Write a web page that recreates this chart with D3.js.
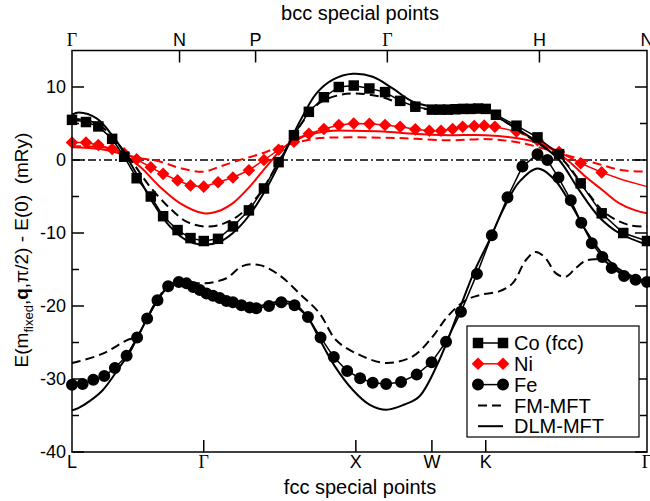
<!DOCTYPE html>
<html>
<head>
  <meta charset="utf-8">
  <title>Spin spiral energies: Co, Ni, Fe</title>
  <style>
    body { margin: 0; background: #fff; }
    svg { display: block; font-family: "Liberation Sans", Arial, Helvetica, sans-serif; }
    .frame { fill: none; stroke: #000; stroke-width: 1.5; }
    .tick { stroke: #000; stroke-width: 1.5; }
    .tick_label { font-size: 18px; fill: #000; }
    .axis_title { font-size: 20px; fill: #000; }
    .legend_text { font-size: 20px; fill: #000; }
    .greek { font-family: "Liberation Serif", "DejaVu Serif", serif; }
  </style>
</head>
<body>
  <svg id="canvas" width="650" height="501"></svg>
  <script src="https://cdnjs.cloudflare.com/ajax/libs/d3/7.8.5/d3.min.js"></script>
  <script>
    // k-path coordinate (fcc path length, 2pi/a) and energies in mRy

    const fccPoints = [["L", 0], ["Γ", 0.866], ["X", 1.866], ["W", 2.366], ["K", 2.720], ["Γ", 3.780]];
    const bccPoints = [["Γ", 0], ["N", 0.707], ["P", 1.207], ["Γ", 2.073], ["H", 3.073], ["N", 3.780]];
    const yMajor = [-40, -30, -20, -10, 0, 10];
    const yMinor = [-35, -25, -15, -5, 5];

    const coPts = [[0, 5.5], [0.092, 5.2], [0.173, 4.6], [0.264, 2.9], [0.343, 0.45], [0.425, -2.5], [0.518, -5.0],
      [0.599, -7.7], [0.694, -9.6], [0.779, -10.7], [0.866, -11.1], [0.960, -10.8], [1.058, -9.1], [1.163, -6.9],
      [1.262, -3.9], [1.358, -0.3], [1.459, 3.4], [1.557, 6.6], [1.656, 8.6], [1.754, 10.0], [1.852, 10.2],
      [1.955, 9.8], [2.058, 9.3], [2.157, 8.1], [2.257, 7.3], [2.366, 6.9], [2.420, 6.9], [2.470, 6.9],
      [2.520, 6.95], [2.570, 7.0], [2.620, 7.0], [2.670, 7.05], [2.720, 7.0], [2.787, 6.2], [2.922, 4.7],
      [3.060, 3.1], [3.202, 0.8], [3.344, -3.2], [3.482, -7.3], [3.624, -10.0], [3.780, -11.1]];
    const coDLM = [[0, 6.2], [0.046, 6.5], [0.162, 5.7], [0.271, 3.2], [0.359, 0.45], [0.446, -2.7], [0.533, -5.9],
      [0.643, -9.1], [0.753, -11.0], [0.866, -11.6], [0.971, -11.2], [1.058, -10.0], [1.168, -7.5], [1.278, -3.9],
      [1.386, 0.45], [1.496, 5.2], [1.606, 9.1], [1.715, 11.0], [1.846, 11.8], [1.977, 11.4], [2.108, 9.8],
      [2.240, 8.0], [2.371, 7.3], [2.480, 7.1], [2.720, 7.0], [2.787, 6.0], [2.940, 4.1], [3.071, 2.3],
      [3.202, 0], [3.333, -4.1], [3.465, -7.8], [3.596, -10.0], [3.780, -11.6]];
    const coFM = [[0, 5.7], [0.162, 5.0], [0.271, 3.0], [0.402, -0.45], [0.512, -3.65], [0.643, -6.6], [0.753, -8.45],
      [0.866, -9.1], [0.971, -8.9], [1.102, -7.5], [1.234, -4.6], [1.365, 0], [1.496, 4.6], [1.627, 7.8],
      [1.759, 8.9], [1.868, 9.1], [2.021, 8.7], [2.152, 7.8], [2.283, 7.1], [2.480, 6.85], [2.720, 6.8],
      [2.808, 5.8], [2.940, 4.0], [3.071, 2.2], [3.202, 0.4], [3.268, -0.9], [3.377, -4.1], [3.509, -7.3],
      [3.661, -8.9], [3.780, -9.1]];

    const niPts = [[0, 2.4], [0.092, 2.4], [0.173, 2.05], [0.264, 1.5], [0.343, 0.9], [0.425, 0.1], [0.518, -1.0],
      [0.599, -1.9], [0.694, -2.8], [0.779, -3.5], [0.866, -3.65], [0.960, -3.05], [1.058, -2.4], [1.163, -1.4],
      [1.262, 0], [1.358, 1.4], [1.459, 2.5], [1.557, 3.6], [1.656, 4.25], [1.754, 4.8], [1.852, 5.0],
      [1.955, 4.95], [2.058, 4.8], [2.157, 4.55], [2.257, 4.2], [2.349, 4.0], [2.426, 4.0], [2.502, 4.25],
      [2.568, 4.55], [2.644, 4.65], [2.710, 4.7], [2.780, 4.55], [2.922, 3.9], [3.060, 2.7], [3.202, 1.1],
      [3.344, -0.45], [3.482, -1.7]];
    const niTail = [[3.624, -2.75], [3.780, -3.65]];
    const niDLM = [[0, 1.75], [0.184, 1.5], [0.337, 0.7], [0.446, -0.9], [0.577, -3.65], [0.709, -5.9], [0.866, -7.3],
      [0.949, -7.1], [1.058, -5.9], [1.168, -3.65], [1.278, -0.9], [1.386, 1.6], [1.496, 3.1], [1.606, 3.7],
      [1.715, 4.0], [1.846, 4.0], [2.043, 3.9], [2.262, 3.55], [2.480, 3.4], [2.720, 3.4], [2.918, 3.0],
      [3.071, 2.3], [3.176, 1.2], [3.268, -0.2], [3.377, -2.3], [3.486, -4.1], [3.596, -5.9], [3.705, -6.9],
      [3.780, -7.3]];
    const niFM = [[0, 1.9], [0.249, 1.6], [0.402, 0.45], [0.577, -0.2], [0.709, -1.1], [0.866, -1.6], [0.971, -0.9],
      [1.102, 0], [1.234, 0.8], [1.365, 1.8], [1.496, 2.5], [1.627, 3.0], [1.824, 3.1], [2.152, 3.0],
      [2.480, 2.7], [2.743, 2.85], [2.961, 2.3], [3.224, 0.8], [3.443, -0.45], [3.618, -1.4], [3.780, -1.6]];

    const fePts = [[0, -30.8], [0.070, -30.7], [0.140, -30.1], [0.212, -29.6], [0.282, -28.5], [0.359, -26.8],
      [0.428, -24.3], [0.494, -21.7], [0.562, -19.2], [0.632, -17.3], [0.702, -16.7], [0.753, -16.9],
      [0.796, -17.4], [0.840, -17.8], [0.884, -18.3], [0.927, -18.6], [0.971, -18.9], [1.015, -19.3],
      [1.058, -19.5], [1.114, -19.9], [1.168, -20.2], [1.212, -20.3], [1.295, -20.0], [1.376, -19.5],
      [1.463, -19.9], [1.551, -21.5], [1.634, -24.3], [1.721, -27.0], [1.809, -28.9], [1.894, -29.9],
      [1.977, -30.5], [2.065, -30.7], [2.163, -30.4], [2.266, -29.4], [2.364, -27.7], [2.459, -24.9],
      [2.557, -20.8], [2.662, -15.6], [2.760, -10.3], [2.863, -5.1], [2.961, -0.9], [3.060, 0.8],
      [3.125, 0], [3.198, -2.4], [3.279, -5.5], [3.348, -8.6], [3.417, -11.4], [3.486, -13.3],
      [3.548, -14.8], [3.629, -15.9], [3.705, -16.4], [3.780, -16.7]];
    const feDLM = [[0, -34.3], [0.041, -34.0], [0.118, -33.0], [0.203, -31.5], [0.315, -28.3], [0.381, -26.3],
      [0.428, -24.4], [0.494, -21.7], [0.562, -19.2], [0.632, -17.3], [0.702, -16.6], [0.774, -17.1],
      [0.866, -18.0], [0.971, -18.8], [1.102, -19.6], [1.212, -20.0], [1.299, -19.7], [1.376, -19.3],
      [1.463, -19.7], [1.551, -21.6], [1.634, -24.8], [1.726, -28.2], [1.846, -31.5], [1.955, -33.5],
      [2.067, -34.2], [2.185, -33.5], [2.283, -32.4], [2.415, -27.4], [2.546, -20.5], [2.644, -15.3],
      [2.743, -11.0], [2.841, -6.5], [2.940, -3.0], [3.060, -1.15], [3.169, -2.6], [3.289, -6.4],
      [3.379, -9.7], [3.465, -12.3], [3.556, -14.3], [3.640, -15.5], [3.780, -16.7]];
    const feFM = [[0, -27.8], [0.041, -27.6], [0.206, -26.5], [0.359, -24.7], [0.428, -24.1], [0.494, -21.6],
      [0.562, -19.1], [0.632, -17.2], [0.702, -16.6], [0.774, -16.8], [0.874, -16.9], [0.938, -16.7],
      [1.015, -16.2], [1.124, -14.5], [1.234, -14.4], [1.365, -15.8], [1.496, -18.3], [1.627, -21.0],
      [1.737, -24.7], [1.890, -26.7], [2.065, -27.8], [2.240, -26.9], [2.371, -24.2], [2.470, -21.4],
      [2.590, -19.2], [2.699, -18.4], [2.808, -18.0], [2.896, -16.9], [2.984, -13.7], [3.049, -12.6],
      [3.115, -13.5], [3.180, -15.5], [3.246, -16.0], [3.312, -14.8], [3.377, -13.8], [3.443, -13.6],
      [3.497, -13.8], [3.563, -14.8], [3.640, -15.8], [3.780, -16.7]];

    const legendItems = [
      { label: "Co (fcc)", color: "#000", marker: "square" },
      { label: "Ni", color: "#f00", marker: "diamond" },
      { label: "Fe", color: "#000", marker: "circle" },
      { label: "FM-MFT", color: "#000", dash: "9,5" },
      { label: "DLM-MFT", color: "#000", dash: null }
    ];

    const dims = { left: 72, right: 647, top: 50.5, bottom: 452, tick: 12, minor: 7 };
    const red = "#f00";

    const svg = d3.select("svg#canvas");

    const x = d3.scaleLinear().domain([0, 3.78]).range([dims.left, dims.right]);
    const y = d3.scaleLinear().domain([-40, 15]).range([dims.bottom, dims.top]);

    const smooth = d3.line().x(d => x(d[0])).y(d => y(d[1])).curve(d3.curveCatmullRom.alpha(0.5));
    const straight = d3.line().x(d => x(d[0])).y(d => y(d[1]));

    const plot = svg.append("g");

    // zero reference line
    plot.append("line")
      .attr("x1", x(0)).attr("x2", x(3.78))
      .attr("y1", y(0)).attr("y2", y(0))
      .attr("stroke", "#000").attr("stroke-width", 1.3)
      .attr("stroke-dasharray", "8,3,2,3");

    const curve = (data, color, dash) => plot.append("path")
      .attr("d", smooth(data))
      .attr("fill", "none")
      .attr("stroke", color)
      .attr("stroke-width", 2)
      .attr("stroke-dasharray", dash);

    const symbolPath = {
      square: d3.symbol(d3.symbolSquare, 110)(),
      diamond: d3.symbol(d3.symbolSquare, 80)(),
      circle: d3.symbol(d3.symbolCircle, 113)()
    };

    const markers = (data, color, type) => {
      plot.append("path")
        .attr("d", straight(data))
        .attr("fill", "none")
        .attr("stroke", color)
        .attr("stroke-width", 1.5);
      plot.append("g").selectAll("path")
        .data(data)
        .enter().append("path")
        .attr("d", symbolPath[type])
        .attr("fill", color)
        .attr("transform", d => "translate(" + x(d[0]) + "," + y(d[1]) + ")" + (type == "diamond" ? "rotate(45)" : ""));
    };

    curve(niFM, red, "9,5");
    curve(niDLM, red, null);
    plot.append("path")
      .attr("d", straight([niPts[niPts.length - 1]].concat(niTail)))
      .attr("fill", "none").attr("stroke", red).attr("stroke-width", 1.5);
    markers(niPts, red, "diamond");

    curve(coFM, "#000", "9,5");
    curve(coDLM, "#000", null);
    markers(coPts, "#000", "square");

    curve(feFM, "#000", "9,5");
    curve(feDLM, "#000", null);
    markers(fePts, "#000", "circle");

    // frame and ticks
    svg.append("rect")
      .attr("class", "frame")
      .attr("x", dims.left).attr("y", dims.top)
      .attr("width", dims.right - dims.left).attr("height", dims.bottom - dims.top);

    const axes = svg.append("g");
    yMajor.concat(yMinor).forEach(v => {
      const len = yMajor.includes(v) ? dims.tick : dims.minor;
      axes.append("line").attr("class", "tick")
        .attr("x1", dims.left).attr("x2", dims.left + len).attr("y1", y(v)).attr("y2", y(v));
      axes.append("line").attr("class", "tick")
        .attr("x1", dims.right).attr("x2", dims.right - len).attr("y1", y(v)).attr("y2", y(v));
    });

    axes.selectAll(".ylab")
      .data(yMajor)
      .enter().append("text")
      .attr("class", "tick_label")
      .attr("x", dims.left - 6)
      .attr("y", v => y(v))
      .attr("dy", "0.35em")
      .attr("text-anchor", "end")
      .text(v => v);

    fccPoints.slice(1, -1).forEach(p => {
      axes.append("line").attr("class", "tick")
        .attr("x1", x(p[1])).attr("x2", x(p[1])).attr("y1", dims.bottom).attr("y2", dims.bottom - dims.tick);
    });
    bccPoints.slice(1, -1).forEach(p => {
      axes.append("line").attr("class", "tick")
        .attr("x1", x(p[1])).attr("x2", x(p[1])).attr("y1", dims.top).attr("y2", dims.top + dims.tick);
    });

    axes.selectAll(".fcclab")
      .data(fccPoints)
      .enter().append("text")
      .attr("class", p => "tick_label" + (p[0] == "Γ" ? " greek" : ""))
      .attr("x", p => x(p[1]))
      .attr("y", dims.bottom + 16)
      .attr("text-anchor", "middle")
      .text(p => p[0]);

    axes.selectAll(".bcclab")
      .data(bccPoints)
      .enter().append("text")
      .attr("class", p => "tick_label" + (p[0] == "Γ" ? " greek" : ""))
      .attr("x", p => x(p[1]))
      .attr("y", dims.top - 5)
      .attr("text-anchor", "middle")
      .text(p => p[0]);

    svg.append("text").attr("class", "axis_title")
      .attr("x", 360).attr("y", 494).attr("text-anchor", "middle")
      .text("fcc special points");
    svg.append("text").attr("class", "axis_title")
      .attr("x", 360).attr("y", 20).attr("text-anchor", "middle")
      .text("bcc special points");

    const ytitle = svg.append("text")
      .attr("class", "tick_label")
      .attr("transform", "translate(28,250)rotate(-90)")
      .attr("text-anchor", "middle")
      .style("font-size", "19px")
      .style("white-space", "pre");
    ytitle.append("tspan").text("E(m");
    ytitle.append("tspan").attr("dy", 5).style("font-size", "13px").text("fixed");
    ytitle.append("tspan").attr("dy", -5).text(",");
    ytitle.append("tspan").style("font-weight", "bold").text("q");
    ytitle.append("tspan").text(",π/2) - E(0)  (mRy)");

    // legend
    const legend = svg.append("g").attr("transform", "translate(467,326)");
    legend.append("rect")
      .attr("width", 172).attr("height", 111)
      .attr("fill", "#fff").attr("stroke", "#000").attr("stroke-width", 1.2);

    const rows = legend.selectAll(".row")
      .data(legendItems)
      .enter().append("g")
      .attr("transform", (_, i) => "translate(0," + (17 + i * 20.8) + ")");

    rows.append("line")
      .attr("x1", 11).attr("x2", 36)
      .attr("stroke", d => d.color)
      .attr("stroke-width", d => d.marker ? 1.5 : 2)
      .attr("stroke-dasharray", d => d.dash);

    rows.filter(d => d.marker).selectAll("path")
      .data(d => [[11, d], [36, d]])
      .enter().append("path")
      .attr("d", p => symbolPath[p[1].marker])
      .attr("fill", p => p[1].color)
      .attr("transform", p => "translate(" + p[0] + ",0)" + (p[1].marker == "diamond" ? "rotate(45)" : ""));

    rows.append("text")
      .attr("class", "legend_text")
      .attr("x", 47)
      .attr("dy", "0.36em")
      .text(d => d.label);
  </script>
</body>
</html>
